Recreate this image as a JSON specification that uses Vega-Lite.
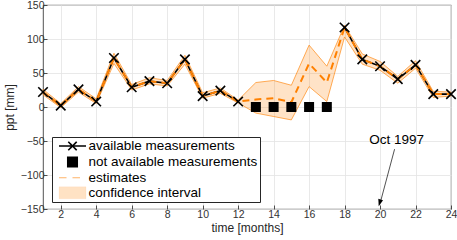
{
  "$schema": "https://vega.github.io/schema/vega-lite/v6.json",
  "width": 408,
  "height": 204,
  "autosize": {"type": "none"},
  "padding": {"left": 43, "top": 5, "right": 6, "bottom": 31},
  "background": "white",
  "config": {
    "font": "Liberation Sans",
    "view": {"stroke": "#262626", "strokeWidth": 0.8},
    "axis": {
      "domain": false,
      "grid": true,
      "gridColor": "#e3e3e3",
      "gridWidth": 0.8,
      "ticks": true,
      "tickSize": -4,
      "tickColor": "#262626",
      "tickWidth": 0.8,
      "tickCount": 40,
      "format": "d",
      "labelOverlap": false,
      "labelFlush": false,
      "labelBound": false,
      "labelFont": "Liberation Sans",
      "labelFontSize": 10.5,
      "labelColor": "#333333",
      "titleFont": "Liberation Sans",
      "titleFontSize": 12,
      "titleFontWeight": "normal",
      "titleColor": "#262626"
    },
    "legend": {
      "symbolSize": 144,
      "labelFont": "Liberation Sans",
      "labelFontSize": 13.5,
      "labelColor": "black",
      "labelLimit": 400,
      "labelOffset": 9,
      "symbolOffset": 11.5,
      "rowPadding": 0,
      "padding": 2,
      "strokeColor": "#262626",
      "fillColor": "white",
      "cornerRadius": 0,
      "symbolOpacity": 1
    }
  },
  "datasets": {
    "main": [
      {"month": 1, "measured": 22, "estimate": 22, "lo": 18, "hi": 26, "segment": "a"},
      {"month": 2, "measured": 2, "estimate": 2, "lo": -1, "hi": 5, "segment": "a"},
      {"month": 3, "measured": 26, "estimate": 26, "lo": 22, "hi": 30, "segment": "a"},
      {"month": 4, "measured": 8, "estimate": 8, "lo": 5, "hi": 12, "segment": "a"},
      {"month": 5, "measured": 72, "estimate": 72, "lo": 64, "hi": 79, "segment": "a"},
      {"month": 6, "measured": 29, "estimate": 29, "lo": 25, "hi": 33, "segment": "a"},
      {"month": 7, "measured": 38, "estimate": 38, "lo": 34, "hi": 43, "segment": "a"},
      {"month": 8, "measured": 35, "estimate": 35, "lo": 31, "hi": 39, "segment": "a"},
      {"month": 9, "measured": 70, "estimate": 70, "lo": 63, "hi": 76, "segment": "a"},
      {"month": 10, "measured": 16, "estimate": 16, "lo": 13, "hi": 21, "segment": "a"},
      {"month": 11, "measured": 24, "estimate": 24, "lo": 20, "hi": 28, "segment": "a"},
      {"month": 12, "measured": 8, "estimate": 8, "lo": 6, "hi": 10, "segment": "a"},
      {"month": 13, "measured": null, "estimate": 11, "lo": -9, "hi": 36, "segment": "gap"},
      {"month": 14, "measured": null, "estimate": 13, "lo": -14, "hi": 39, "segment": "gap"},
      {"month": 15, "measured": null, "estimate": 7, "lo": -19, "hi": 32, "segment": "gap"},
      {"month": 16, "measured": null, "estimate": 64, "lo": 30, "hi": 91, "segment": "gap"},
      {"month": 17, "measured": null, "estimate": 36, "lo": 8, "hi": 60, "segment": "gap"},
      {"month": 18, "measured": 117, "estimate": 117, "lo": 103, "hi": 120, "segment": "b"},
      {"month": 19, "measured": 70, "estimate": 70, "lo": 63, "hi": 78, "segment": "b"},
      {"month": 20, "measured": 60, "estimate": 60, "lo": 54, "hi": 67, "segment": "b"},
      {"month": 21, "measured": 41, "estimate": 41, "lo": 35, "hi": 45, "segment": "b"},
      {"month": 22, "measured": 62, "estimate": 62, "lo": 57, "hi": 68, "segment": "b"},
      {"month": 23, "measured": 19, "estimate": 19, "lo": 14, "hi": 23, "segment": "b"},
      {"month": 24, "measured": 19, "estimate": 19, "lo": 16, "hi": 22, "segment": "b"}
    ],
    "missing": [
      {"month": 13, "value": 0},
      {"month": 14, "value": 0},
      {"month": 15, "value": 0},
      {"month": 16, "value": 0},
      {"month": 17, "value": 0}
    ],
    "arrow": [
      {"x": 20.82, "y": -62, "x2": 20.02, "y2": -140, "tipx": 19.98, "tipy": -141, "label": "Oct 1997", "tx": 20.93, "ty": -48.5}
    ],
    "legend": []
  },
  "layer": [
    {
      "data": {"name": "main"},
      "mark": {"type": "area", "fill": "#ff8000", "fillOpacity": 0.22, "stroke": "#ff8000", "strokeWidth": 0.8, "strokeOpacity": 0.8},
      "encoding": {
        "x": {"field": "month", "type": "quantitative", "scale": {"domain": [1, 24], "nice": false, "zero": false},
          "axis": {"values": [2, 4, 6, 8, 10, 12, 14, 16, 18, 20, 22, 24], "tickCount": 40, "format": "d", "title": "time [months]", "labelPadding": 4, "titlePadding": 3, "labelOverlap": false}},
        "y": {"field": "lo", "type": "quantitative", "scale": {"domain": [-150, 150], "nice": false, "zero": false},
          "axis": {"values": [-150, -100, -50, 0, 50, 100, 150], "tickCount": 40, "format": "d", "title": "ppt [mm]", "labelPadding": 3, "titlePadding": 4, "labelOverlap": false}},
        "y2": {"field": "hi"}
      }
    },
    {
      "data": {"name": "main"},
      "transform": [{"filter": "datum.measured != null"}],
      "mark": {"type": "line", "color": "black", "strokeWidth": 1.6},
      "encoding": {
        "x": {"field": "month", "type": "quantitative"},
        "y": {"field": "measured", "type": "quantitative"},
        "detail": {"field": "segment"}
      }
    },
    {
      "data": {"name": "main"},
      "mark": {"type": "line", "color": "#ff8000", "strokeWidth": 2, "strokeDash": [7, 5]},
      "encoding": {
        "x": {"field": "month", "type": "quantitative"},
        "y": {"field": "estimate", "type": "quantitative"}
      }
    },
    {
      "data": {"name": "main"},
      "transform": [{"filter": "datum.measured != null"}],
      "mark": {"type": "point", "shape": "M-1,-1L1,1M-1,1L1,-1", "filled": false, "stroke": "black", "strokeWidth": 1.6, "size": 90, "opacity": 1},
      "encoding": {
        "x": {"field": "month", "type": "quantitative"},
        "y": {"field": "measured", "type": "quantitative"}
      }
    },
    {
      "data": {"name": "missing"},
      "mark": {"type": "square", "color": "black", "size": 100, "opacity": 1},
      "encoding": {
        "x": {"field": "month", "type": "quantitative"},
        "y": {"field": "value", "type": "quantitative"}
      }
    },
    {
      "data": {"name": "arrow"},
      "mark": {"type": "rule", "color": "#262626", "strokeWidth": 0.8},
      "encoding": {
        "x": {"field": "x", "type": "quantitative"},
        "y": {"field": "y", "type": "quantitative"},
        "x2": {"field": "x2"},
        "y2": {"field": "y2"}
      }
    },
    {
      "data": {"name": "arrow"},
      "mark": {"type": "point", "shape": "M-0.7,-1L0.7,-1L0,1Z", "filled": true, "color": "black", "size": 49, "angle": 16, "opacity": 1},
      "encoding": {
        "x": {"field": "tipx", "type": "quantitative"},
        "y": {"field": "tipy", "type": "quantitative"}
      }
    },
    {
      "data": {"name": "arrow"},
      "mark": {"type": "text", "fontSize": 13.5, "font": "Liberation Sans", "color": "black", "align": "center", "baseline": "middle"},
      "encoding": {
        "x": {"field": "tx", "type": "quantitative"},
        "y": {"field": "ty", "type": "quantitative"},
        "text": {"field": "label"}
      }
    },
    {
      "data": {"name": "legend"},
      "mark": {"type": "point", "opacity": 1},
      "encoding": {
        "x": {"field": "month", "type": "quantitative"},
        "y": {"field": "value", "type": "quantitative"},
        "shape": {"field": "series", "type": "nominal",
          "scale": {"domain": ["available measurements", "not available measurements", "estimates", "confidence interval"],
            "range": ["M-2.25,0H2.25M-0.7,-0.7L0.7,0.7M-0.7,0.7L0.7,-0.7", "M-0.83,-0.83H0.83V0.83H-0.83Z", "M-2.25,0H2.25", "M-2.25,-1H2.25V1H-2.25Z"]},
          "legend": {"title": null, "orient": "none", "legendX": 9, "legendY": 132}},
        "fill": {"field": "series", "type": "nominal",
          "scale": {"domain": ["available measurements", "not available measurements", "estimates", "confidence interval"],
            "range": ["transparent", "black", "transparent", "#ffe2c4"]},
          "legend": {"title": null, "orient": "none", "legendX": 9, "legendY": 132}},
        "stroke": {"field": "series", "type": "nominal",
          "scale": {"domain": ["available measurements", "not available measurements", "estimates", "confidence interval"],
            "range": ["black", "black", "#ff8000", "#ffb066"]},
          "legend": {"title": null, "orient": "none", "legendX": 9, "legendY": 132}},
        "strokeDash": {"field": "series", "type": "nominal",
          "scale": {"domain": ["available measurements", "not available measurements", "estimates", "confidence interval"],
            "range": [[1, 0], [1, 0], [7.5, 6], [1, 0]]},
          "legend": {"title": null, "orient": "none", "legendX": 9, "legendY": 132}},
        "strokeWidth": {"field": "series", "type": "nominal",
          "scale": {"domain": ["available measurements", "not available measurements", "estimates", "confidence interval"],
            "range": [1.6, 0.1, 2, 1]},
          "legend": {"title": null, "orient": "none", "legendX": 9, "legendY": 132}}
      }
    }
  ]
}
